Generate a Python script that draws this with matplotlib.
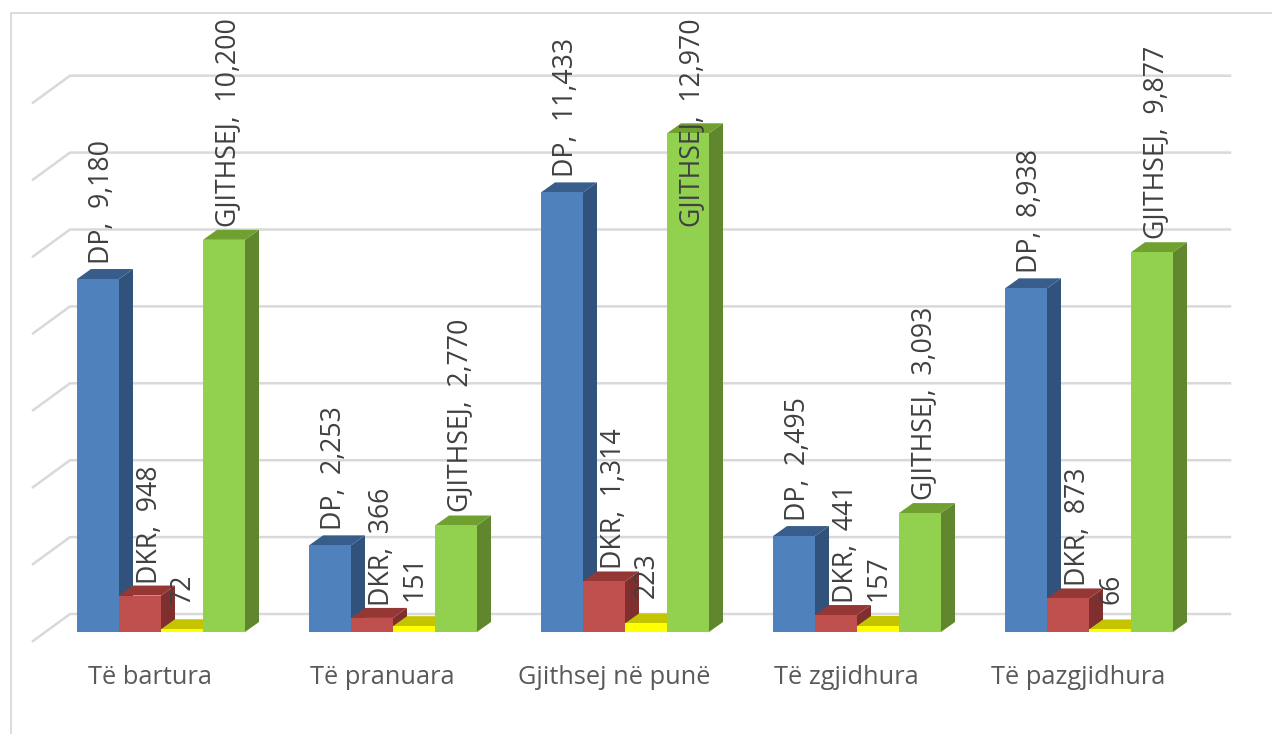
import matplotlib
matplotlib.use("Agg")
import matplotlib.pyplot as plt
from matplotlib.patches import Polygon

categories = ["Të bartura", "Të pranuara", "Gjithsej në punë", "Të zgjidhura", "Të pazgjidhura"]
series_names = ["DP", "DKR", "", "GJITHSEJ"]
dp = [9180, 2253, 11433, 2495, 8938]
dkr = [948, 366, 1314, 441, 873]
other = [72, 151, 223, 157, 66]
total = [10200, 2770, 12970, 3093, 9877]
gridlines = [0, 2000, 4000, 6000, 8000, 10000, 12000, 14000]

front = ["#4F81BD", "#C0504D", "#FFFF00", "#92D050"]
top = ["#385D8A", "#953735", "#C4C400", "#70A030"]
side = ["#31527A", "#7F302E", "#A8A800", "#60862E"]

W, H = 1272, 734
PX_PER_UNIT = 0.03845
Y0 = 632.0
GROUP_PX = 232.0
X0 = 77.0
BAR = 42.0 / GROUP_PX
DX = 14.0 / GROUP_PX
DY = 10.0 / PX_PER_UNIT

plt.rcParams["font.family"] = ["Open Sans", "DejaVu Sans"]
fig = plt.figure(figsize=(W / 100, H / 100), dpi=100)
ax = fig.add_axes([0, 0, 1, 1])
ax.set_xlim(-X0 / GROUP_PX, (W - X0) / GROUP_PX)
ax.set_ylim(-(H - Y0) / PX_PER_UNIT, Y0 / PX_PER_UNIT)
ax.axis("off")


def px_x(p):
    return (p - X0) / GROUP_PX


def px_y(p):
    return (Y0 - p) / PX_PER_UNIT


# chart frame
ax.plot([px_x(11), px_x(11), px_x(1272)], [px_y(734), px_y(13), px_y(13)],
        color="#D9D9D9", lw=1.3, zorder=1, clip_on=False)

# gridlines on wall and floor side
wall_left, wall_right, floor_left = px_x(70), px_x(1230), px_x(33)
for g in gridlines:
    yb = g + 18 / PX_PER_UNIT
    yf = g - 9 / PX_PER_UNIT
    ax.plot([floor_left, wall_left, wall_right], [yf, yb, yb], color="#D9D9D9", lw=1.8,
            solid_joinstyle="miter", zorder=2)

series = [dp, dkr, other, total]
for i in range(len(categories)):
    for j, vals in enumerate(series):
        v = vals[i]
        x = i + j * BAR
        z = 3 + i * 10 + j
        ax.bar(x, v, BAR, align="edge", color=front[j], linewidth=0, zorder=z + 0.3)
        ax.add_patch(Polygon([(x + BAR, 0), (x + BAR + DX, DY), (x + BAR + DX, v + DY), (x + BAR, v)],
                             closed=True, fc=side[j], ec="none", zorder=z + 0.1))
        ax.add_patch(Polygon([(x, v), (x + DX, v + DY), (x + BAR + DX, v + DY), (x + BAR, v)],
                             closed=True, fc=top[j], ec="none", zorder=z + 0.2))
        name = series_names[j]
        label = f"{name},  {v:,}" if name else f"{v:,}"
        xoff = {0: 4, 1: 10, 2: 1, 3: 4}[j] / GROUP_PX
        gap = {0: 15, 1: 12, 2: 25, 3: 13}[j] / PX_PER_UNIT
        # the tallest bar's label is pushed down into the bar to stay inside the frame
        if v == max(total):
            gap = -94 / PX_PER_UNIT
        ax.text(x + BAR / 2 + xoff, v + gap, label, rotation=90, ha="center", va="bottom",
                fontsize=19.2, color="#404040", zorder=100)
    ax.text(i + 2 * BAR - 11 / GROUP_PX, px_y(678), categories[i], ha="center", va="center",
            fontsize=18.3, color="#595959", zorder=100)

fig.savefig("out.png", dpi=100, facecolor="white")
